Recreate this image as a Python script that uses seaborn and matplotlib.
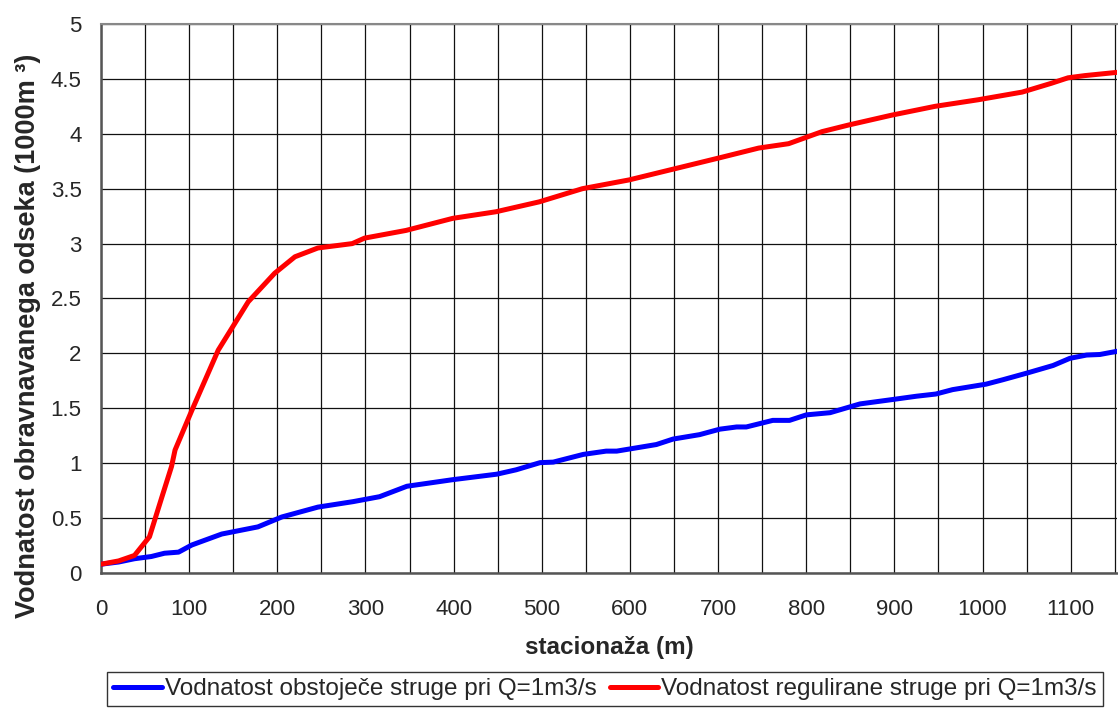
import matplotlib
matplotlib.use("Agg")
import matplotlib.pyplot as plt
import seaborn as sns
import pandas as pd
from matplotlib.ticker import MultipleLocator

# Data
blue_x = [0, 20, 38, 57, 72, 88, 103, 137, 178, 205, 246, 286, 316, 347, 399, 449, 471,
          498, 513, 547, 573, 585, 630, 649, 679, 702, 721, 732, 762, 781, 800, 827, 861,
          898, 925, 947, 966, 1004, 1023, 1050, 1080, 1099, 1118, 1133, 1153]
blue_y = [0.08, 0.10, 0.13, 0.15, 0.18, 0.19, 0.255, 0.355, 0.42, 0.51, 0.60, 0.65, 0.695,
          0.79, 0.85, 0.90, 0.94, 1.005, 1.01, 1.08, 1.11, 1.11, 1.17, 1.22, 1.26, 1.31,
          1.33, 1.33, 1.39, 1.39, 1.44, 1.46, 1.54, 1.58, 1.61, 1.63, 1.67, 1.72, 1.76,
          1.82, 1.89, 1.955, 1.985, 1.99, 2.02]

red_x = [0, 20, 38, 55, 69, 80, 84, 103, 133, 167, 197, 220, 246, 285, 299, 346, 399, 448,
         497, 546, 599, 701, 746, 780, 818, 848, 897, 946, 995, 1045, 1078, 1097, 1116, 1153]
red_y = [0.08, 0.11, 0.16, 0.33, 0.69, 0.97, 1.12, 1.48, 2.03, 2.47, 2.73, 2.88, 2.96, 3.00,
         3.05, 3.12, 3.23, 3.29, 3.38, 3.50, 3.58, 3.78, 3.87, 3.91, 4.02, 4.08, 4.17, 4.25,
         4.31, 4.38, 4.46, 4.51, 4.53, 4.56]

yticks = [0, 0.5, 1, 1.5, 2, 2.5, 3, 3.5, 4, 4.5, 5]
ytick_labels = ["0", "0.5", "1", "1.5", "2", "2.5", "3", "3.5", "4", "4.5", "5"]

blue_label = "Vodnatost obstoječe struge pri Q=1m3/s"
red_label = "Vodnatost regulirane struge pri Q=1m3/s"
x_title = "stacionaža (m)"
y_title = "Vodnatost obravnavanega odseka (1000m ³)"

sns.set_style("white")
plt.rcParams['font.family'] = ['Liberation Sans', 'DejaVu Sans']

fig = plt.figure(figsize=(11.18, 7.08), dpi=100)
ax = fig.add_axes([101/1118, 1 - 573/708, 1 - 101/1118 - 0.0005, (573 - 24)/708])

df_b = pd.DataFrame({"x": blue_x, "y": blue_y})
df_r = pd.DataFrame({"x": red_x, "y": red_y})
sns.lineplot(data=df_b, x="x", y="y", ax=ax, color="#0000FF", lw=3.6, label=blue_label,
             solid_capstyle="round", solid_joinstyle="round", zorder=3)
sns.lineplot(data=df_r, x="x", y="y", ax=ax, color="#FF0000", lw=3.6, label=red_label,
             solid_capstyle="round", solid_joinstyle="round", zorder=4)

ax.set_xlim(0, 1153)
ax.set_ylim(0, 5)
ax.xaxis.set_major_locator(MultipleLocator(100))
ax.xaxis.set_minor_locator(MultipleLocator(50))
ax.set_yticks(yticks)
ax.set_yticklabels(ytick_labels)

ax.grid(True, which="both", color="#111111", lw=0.9)
ax.set_axisbelow(True)
ax.tick_params(axis="x", which="major", direction="out", length=6, width=1.2,
               color="#444444", labelsize=16, pad=13)
ax.tick_params(axis="y", which="major", direction="out", length=6, width=1.2,
               color="#444444", labelsize=16, pad=8)
ax.tick_params(axis="both", which="minor", length=0)

for s in ["left", "bottom"]:
    ax.spines[s].set_color("#555555")
    ax.spines[s].set_linewidth(1.8)
ax.spines["top"].set_color("#888888")
ax.spines["top"].set_linewidth(1.5)
ax.spines["right"].set_visible(False)

ax.set_xlabel(x_title, fontsize=17.5, fontweight="bold", labelpad=11)
ax.set_ylabel(y_title, fontsize=19.5, fontweight="bold")
ax.yaxis.set_label_coords(-0.059, 0.432)

handles, labels = ax.get_legend_handles_labels()
ax.get_legend().remove()
leg = fig.legend(handles, labels, loc="center", bbox_to_anchor=(605/1118, 1 - 689/708),
                 ncol=2, frameon=True, fancybox=False, fontsize=17.5, handlelength=2.0,
                 handletextpad=0.12, columnspacing=0.55, borderpad=0.25, borderaxespad=0)
leg.get_frame().set_edgecolor("black")
leg.get_frame().set_linewidth(1.0)

fig.savefig("out.png", dpi=100)
